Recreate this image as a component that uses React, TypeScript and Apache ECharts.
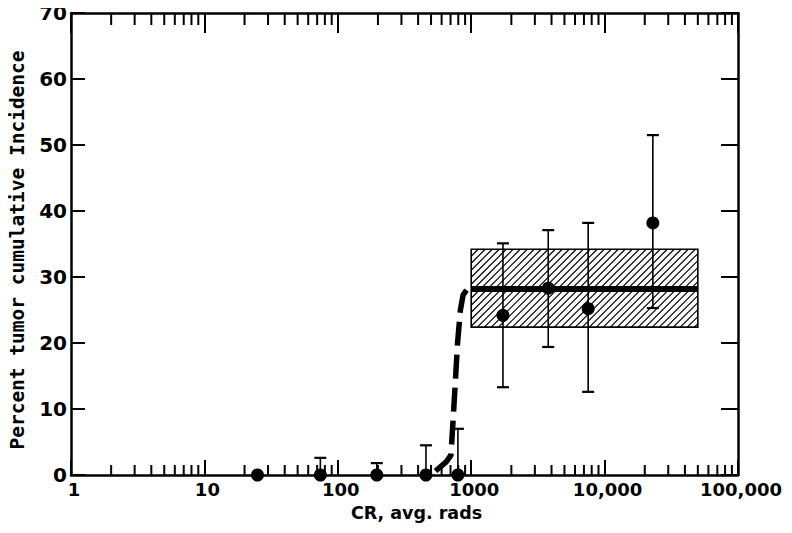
import React, { useEffect, useRef } from "react";
import * as echarts from "echarts";

// ---- data ----
const xTickValues = [1, 10, 100, 1000, 10000, 100000];
const xTickLabels = ["1", "10", "100", "1000", "10,000", "100,000"];
const yTickLabels = ["0", "10", "20", "30", "40", "50", "60", "70"];

// low-dose group (all at 0 %)
const lowDose = [25, 74, 196, 458, 795];
const lowIncidence = [0, 0, 0, 0, 0];
// upper limits of error bars for low-dose points (null = no bar)
const lowUpper = [null, 2.6, 1.8, 4.5, 7.0];

// high-dose group
const highDose = [1730, 3780, 7530, 23000];
const highIncidence = [24.2, 28.3, 25.2, 38.2];
const highLower = [13.3, 19.4, 12.6, 25.3];
const highUpper = [35.1, 37.1, 38.2, 51.5];

// dashed rising curve
const curveDose = [540, 650, 705, 730, 760, 790, 830, 870, 930, 1000];
const curveIncidence = [0.6, 2, 3, 8, 14, 20, 25, 27.3, 28.1, 28.2];

// plateau line
const plateauDose = [1000, 50000];
const plateauIncidence = [28.2, 28.2];

// hatched confidence band
const bandDose = [1000, 50000];
const bandIncidence = [22.4, 34.2];

// log minor tick multipliers
const minorMultipliers = [2, 3, 4, 5, 6, 7, 8, 9];
const decades = [1, 10, 100, 1000, 10000];

const FONT = "DejaVu Sans";
const MONO = "DejaVu Sans Mono";

export default function App() {
  const ref = useRef<HTMLDivElement>(null);

  useEffect(() => {
    if (!ref.current) return;
    const chart = echarts.init(ref.current, undefined, { renderer: "svg" });

    const minorTicks: number[][] = [];
    decades.forEach((d) => minorMultipliers.forEach((m) => minorTicks.push([d * m, 0])));

    const errData: number[][] = [];
    lowDose.forEach((d, i) => {
      const u = lowUpper[i];
      if (u !== null) errData.push([d, lowIncidence[i], u as number]);
    });
    highDose.forEach((d, i) => errData.push([d, highLower[i], highUpper[i]]));

    const points: number[][] = [];
    lowDose.forEach((d, i) => points.push([d, lowIncidence[i]]));
    highDose.forEach((d, i) => points.push([d, highIncidence[i]]));

    const labelStyle = {
      color: "#000",
      fontFamily: FONT,
      fontWeight: "bold" as const,
      fontSize: 18,
    };
    const axisLine = { show: true, onZero: false, lineStyle: { color: "#000", width: 2.5 } };

    chart.setOption({
      animation: false,
      backgroundColor: "#fff",
      grid: { left: 71, right: 54, top: 13, bottom: 58, containLabel: false },
      graphic: [
        {
          type: "text",
          x: 17,
          y: 250,
          rotation: Math.PI / 2,
          style: {
            text: "Percent tumor cumulative Incidence",
            fill: "#000",
            font: `bold 19.5px "${MONO}"`,
            align: "center",
            verticalAlign: "middle",
          },
        },
      ],
      xAxis: [
        {
          type: "log",
          logBase: 10,
          min: 1,
          max: 100000,
          position: "bottom",
          axisLine,
          axisTick: { show: true, inside: true, length: 15, lineStyle: { color: "#000", width: 2 } },
          axisLabel: {
            ...labelStyle,
            margin: 5,
            padding: [0, 0, 0, 6],
            formatter: (v: number) => {
              const idx = xTickValues.findIndex((t) => Math.abs(Math.log10(t) - Math.log10(v)) < 1e-6);
              return idx >= 0 ? xTickLabels[idx] : "";
            },
          },
          splitLine: { show: false },
          name: "CR, avg. rads",
          nameLocation: "middle",
          nameGap: 29,
          nameTextStyle: { ...labelStyle, fontSize: 17.5, padding: [0, 0, 0, 24] },
        },
        {
          type: "log",
          logBase: 10,
          min: 1,
          max: 100000,
          position: "top",
          axisLine,
          axisTick: { show: true, inside: true, length: 20, lineStyle: { color: "#000", width: 2 } },
          axisLabel: { show: false },
          splitLine: { show: false },
        },
      ],
      yAxis: [
        {
          type: "value",
          min: 0,
          max: 70,
          interval: 10,
          position: "left",
          axisLine,
          axisTick: { show: true, inside: true, length: 14, lineStyle: { color: "#000", width: 2 } },
          axisLabel: {
            ...labelStyle,
            fontSize: 20,
            margin: 4,
            formatter: (v: number) => yTickLabels[Math.round(v / 10)] ?? "",
          },
          splitLine: { show: false },
        },
        {
          type: "value",
          min: 0,
          max: 70,
          interval: 10,
          position: "right",
          axisLine,
          axisTick: { show: true, inside: true, length: 17, lineStyle: { color: "#000", width: 2 } },
          axisLabel: { show: false },
          splitLine: { show: false },
        },
      ],
      series: [
        {
          type: "custom",
          name: "minorTicks",
          xAxisIndex: 0,
          yAxisIndex: 0,
          clip: false,
          silent: true,
          z: 5,
          data: minorTicks,
          encode: { x: 0, y: 1 },
          renderItem: (params: any, api: any) => {
            const b = api.coord([api.value(0), 0]);
            const t = api.coord([api.value(0), 70]);
            const st = { stroke: "#000", lineWidth: 2 };
            return {
              type: "group",
              children: [
                { type: "line", shape: { x1: b[0], y1: b[1], x2: b[0], y2: b[1] - 10 }, style: st },
                { type: "line", shape: { x1: t[0], y1: t[1], x2: t[0], y2: t[1] + 12 }, style: st },
              ],
            };
          },
        },
        {
          type: "custom",
          name: "band",
          xAxisIndex: 0,
          yAxisIndex: 0,
          clip: false,
          silent: true,
          z: 1,
          data: [[bandDose[0], bandIncidence[0], bandDose[1], bandIncidence[1]]],
          encode: { x: [0, 2], y: [1, 3] },
          renderItem: (params: any, api: any) => {
            const a = api.coord([api.value(0), api.value(3)]);
            const b = api.coord([api.value(2), api.value(1)]);
            const x0 = a[0], y0 = a[1], x1 = b[0], y1 = b[1];
            const h = y1 - y0;
            const t = 1.0;
            const s = 7;
            const children: any[] = [
              {
                type: "rect",
                shape: { x: x0, y: y0, width: x1 - x0, height: h },
                style: { fill: "#fff", stroke: "#000", lineWidth: 1.6 },
              },
            ];
            for (let c = x0 - h * t; c < x1; c += s) {
              const ya = Math.max(y0, y1 - (x1 - c) / t);
              const yb = Math.min(y1, y1 - (x0 - c) / t);
              if (ya < yb) {
                children.push({
                  type: "line",
                  shape: { x1: c + (y1 - ya) * t, y1: ya, x2: c + (y1 - yb) * t, y2: yb },
                  style: { stroke: "#000", lineWidth: 1.2 },
                });
              }
            }
            return { type: "group", children };
          },
        },
        {
          type: "line",
          name: "curve",
          xAxisIndex: 0,
          yAxisIndex: 0,
          z: 3,
          showSymbol: false,
          smooth: false,
          clip: false,
          data: curveDose.map((d, i) => [d, curveIncidence[i]]),
          lineStyle: { color: "#000", width: 5.5, type: [24, 9], join: "round" },
        },
        {
          type: "line",
          name: "plateau",
          xAxisIndex: 0,
          yAxisIndex: 0,
          z: 3,
          showSymbol: false,
          clip: false,
          data: plateauDose.map((d, i) => [d, plateauIncidence[i]]),
          lineStyle: { color: "#000", width: 6 },
        },
        {
          type: "custom",
          name: "errors",
          xAxisIndex: 0,
          yAxisIndex: 0,
          clip: false,
          z: 4,
          data: errData,
          encode: { x: 0, y: [1, 2] },
          renderItem: (params: any, api: any) => {
            const lo = api.coord([api.value(0), api.value(1)]);
            const hi = api.coord([api.value(0), api.value(2)]);
            const w = 6;
            return {
              type: "group",
              children: [
                { type: "line", shape: { x1: lo[0], y1: lo[1], x2: hi[0], y2: hi[1] }, style: { stroke: "#000", lineWidth: 1.6 } },
                { type: "line", shape: { x1: hi[0] - w, y1: hi[1], x2: hi[0] + w, y2: hi[1] }, style: { stroke: "#000", lineWidth: 2.2 } },
                { type: "line", shape: { x1: lo[0] - w, y1: lo[1], x2: lo[0] + w, y2: lo[1] }, style: { stroke: "#000", lineWidth: 2.2 } },
              ],
            };
          },
        },
        {
          type: "scatter",
          name: "points",
          xAxisIndex: 0,
          yAxisIndex: 0,
          z: 6,
          clip: false,
          symbol: "circle",
          symbolSize: 13,
          itemStyle: { color: "#000", opacity: 1 },
          data: points,
        },
      ],
    });

    return () => chart.dispose();
  }, []);

  return <div ref={ref} style={{ width: 792, height: 533, margin: -8 }} />;
}
